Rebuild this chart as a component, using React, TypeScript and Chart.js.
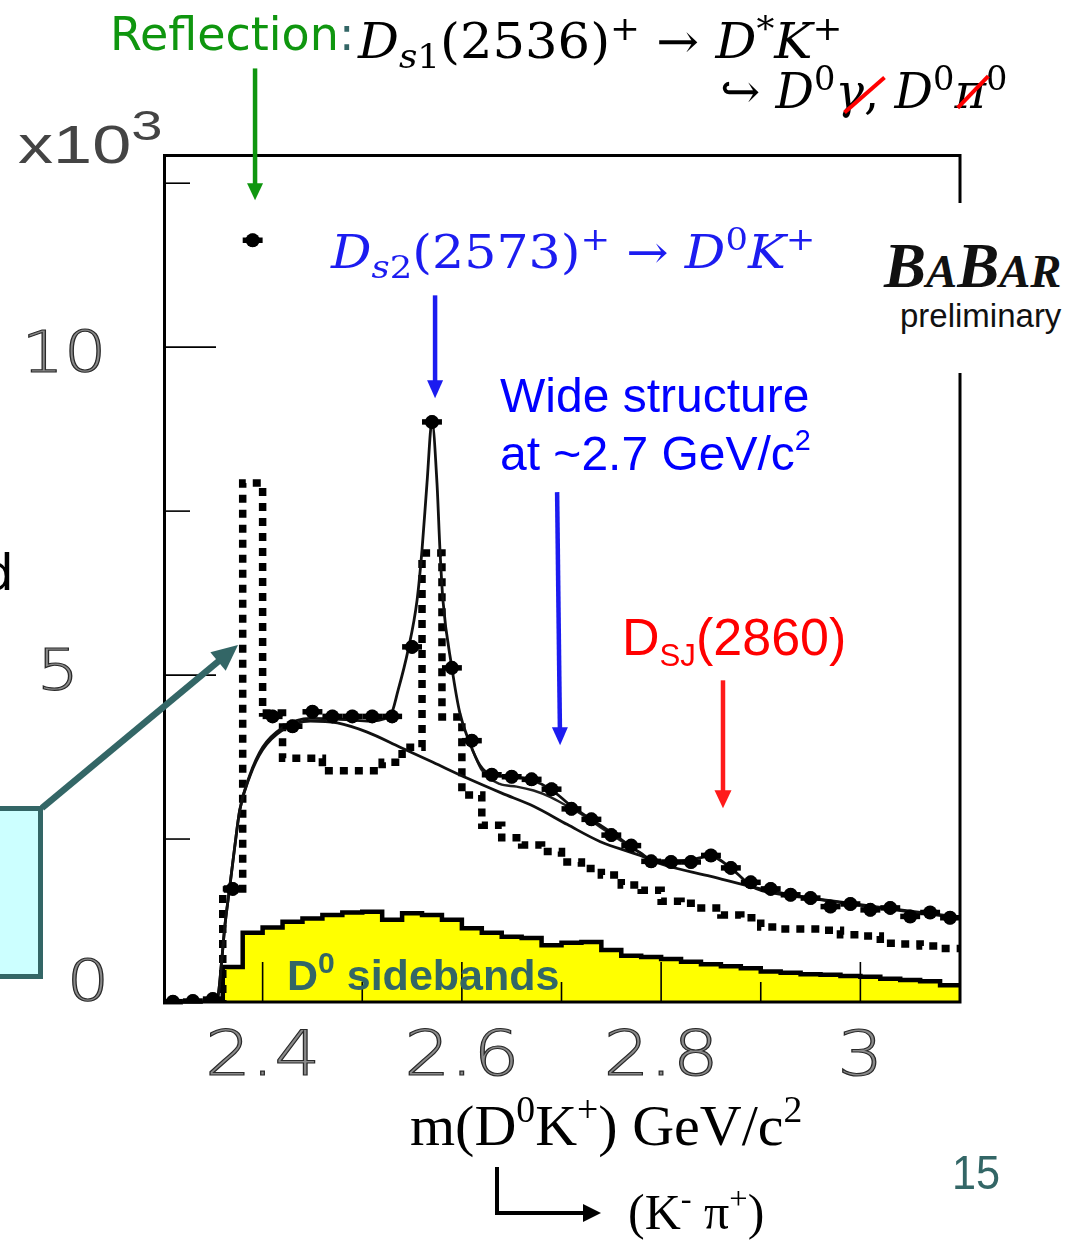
import React, { useEffect, useRef } from 'react';
import { Chart, registerables } from 'chart.js';
Chart.register(...registerables);

// ---------------- data ----------------
const BIN_CENTERS = [2.31, 2.33, 2.35, 2.37, 2.39, 2.41, 2.43, 2.45, 2.47, 2.49, 2.51, 2.53, 2.55, 2.57, 2.59, 2.61, 2.63, 2.65, 2.67, 2.69, 2.71, 2.73, 2.75, 2.77, 2.79, 2.81, 2.83, 2.85, 2.87, 2.89, 2.91, 2.93, 2.95, 2.97, 2.99, 3.01, 3.03, 3.05, 3.07, 3.09];
const BIN_HALF = 0.01;

// data points (x10^3 entries)
const DATA_VALUES = [0.02, 0.03, 0.06, 1.74, 11.63, 4.37, 4.22, 4.44, 4.37, 4.37, 4.37, 4.37, 5.43, 8.86, 5.11, 4.0, 3.48, 3.45, 3.41, 3.26, 2.96, 2.8, 2.56, 2.4, 2.16, 2.15, 2.15, 2.25, 2.06, 1.84, 1.74, 1.65, 1.6, 1.47, 1.51, 1.42, 1.45, 1.32, 1.38, 1.3];
const DATA_ERROR = 0.1;

// dotted histogram
const DOTTED_VALUES: (number | null)[] = [null, null, 0, 1.74, 7.93, 4.42, 3.73, 3.73, 3.54, 3.54, 3.54, 3.67, 3.9, 6.86, 4.36, 3.17, 2.71, 2.52, 2.41, 2.31, 2.15, 2.05, 1.95, 1.8, 1.72, 1.55, 1.52, 1.45, 1.34, 1.3, 1.16, 1.13, 1.13, 1.11, 1.04, 1.02, 0.91, 0.9, 0.87, 0.83];

// D0 sidebands histogram
const SIDEBAND_VALUES = [0, 0, 0, 0.55, 1.07, 1.15, 1.24, 1.29, 1.34, 1.38, 1.39, 1.27, 1.37, 1.34, 1.27, 1.14, 1.07, 1.01, 0.99, 0.88, 0.92, 0.93, 0.81, 0.72, 0.7, 0.67, 0.63, 0.59, 0.56, 0.53, 0.48, 0.46, 0.44, 0.43, 0.41, 0.4, 0.37, 0.35, 0.33, 0.27];

// total fit curve
const FIT_M = [2.35, 2.355, 2.359, 2.362, 2.367, 2.372, 2.377, 2.387, 2.4, 2.42, 2.448, 2.475, 2.505, 2.528, 2.536, 2.546, 2.555, 2.56, 2.565, 2.57, 2.575, 2.578, 2.581, 2.59, 2.598, 2.608, 2.618, 2.63, 2.65, 2.67, 2.69, 2.71, 2.73, 2.75, 2.779, 2.796, 2.829, 2.849, 2.872, 2.892, 2.923, 2.95, 3.0, 3.05, 3.1];
const FIT_V = [0, 0.09, 0.66, 1.16, 1.77, 2.38, 2.94, 3.47, 3.9, 4.2, 4.34, 4.33, 4.3, 4.38, 4.77, 5.38, 6.14, 6.91, 7.93, 8.86, 7.93, 6.91, 6.14, 5.11, 4.42, 3.96, 3.63, 3.48, 3.45, 3.4, 3.25, 3.0, 2.8, 2.6, 2.29, 2.15, 2.18, 2.24, 2.03, 1.77, 1.65, 1.6, 1.5, 1.4, 1.31];

// background curve
const BG_M = [2.35, 2.355, 2.359, 2.362, 2.367, 2.372, 2.377, 2.387, 2.4, 2.42, 2.448, 2.475, 2.505, 2.538, 2.571, 2.605, 2.64, 2.672, 2.706, 2.739, 2.779, 2.8, 2.85, 2.9, 2.95, 3.0, 3.05, 3.1];
const BG_V = [0, 0.09, 0.66, 1.16, 1.77, 2.38, 2.94, 3.45, 3.86, 4.16, 4.3, 4.27, 4.13, 3.9, 3.67, 3.43, 3.2, 3.0, 2.72, 2.46, 2.25, 2.12, 1.93, 1.74, 1.6, 1.49, 1.39, 1.3];

// intermediate fit component
const ALT_M = [2.61, 2.62, 2.638, 2.655, 2.672, 2.689, 2.706, 2.722, 2.739, 2.76, 2.779];
const ALT_V = [3.88, 3.55, 3.34, 3.3, 3.24, 3.14, 3.0, 2.86, 2.68, 2.47, 2.29];

// axes
const X_MIN = 2.3;
const X_MAX = 3.1;
const Y_MIN = 0;
const Y_MAX = 12.93;
const X_MAJOR_TICKS = [2.4, 2.6, 2.8, 3.0];
const X_MINOR_TICKS = [2.5, 2.7, 2.9];
const X_TICK_LABELS = ['2.4', '2.6', '2.8', '3'];
const Y_MAJOR_TICKS = [5, 10];
const Y_MINOR_TICKS = [2.5, 7.5, 12.5];
const Y_LABEL_VALUES = [0, 5, 10];
const Y_TICK_LABELS = ['0', '5', '10'];

// annotation arrows in data coordinates [mass, entries]
const ANNOTATION_ARROWS = [
  { from: [2.3924, 14.25], to: [2.3924, 12.24], color: '#0f960f', width: 4.5, head: 17, headW: 16 },
  { from: [2.5731, 10.79], to: [2.5731, 9.22], color: '#1c1cf0', width: 4.5, head: 18, headW: 16 },
  { from: [2.6956, 7.79], to: [2.6986, 3.93], color: '#1c1cf0', width: 4.5, head: 18, headW: 16 },
  { from: [2.8621, 4.92], to: [2.8621, 2.97], color: '#ff1a1a', width: 4.5, head: 18, headW: 17 },
  { from: [2.1785, 2.973], to: [2.3753, 5.459], color: '#336666', width: 6.5, head: 26, headW: 24 },
];

// ---------------- helpers ----------------
const r3 = (v: number) => Math.round(v * 1000) / 1000;
function histPoints(values: (number | null)[]) {
  const pts: { x: number; y: number }[] = [];
  let last = 0;
  BIN_CENTERS.forEach((c, i) => {
    const v = values[i];
    if (v === null || v === undefined) return;
    pts.push({ x: r3(c - BIN_HALF), y: v });
    last = v;
  });
  pts.push({ x: r3(BIN_CENTERS[BIN_CENTERS.length - 1] + BIN_HALF), y: last });
  return pts;
}
const curve = (m: number[], v: number[]) => m.map((x, i) => ({ x, y: v[i] }));

function drawArrow(ctx: CanvasRenderingContext2D, x1: number, y1: number, x2: number, y2: number, color: string, lw: number, headLen: number, headW: number) {
  const ang = Math.atan2(y2 - y1, x2 - x1);
  const bx = x2 - headLen * Math.cos(ang);
  const by = y2 - headLen * Math.sin(ang);
  ctx.strokeStyle = color;
  ctx.fillStyle = color;
  ctx.lineWidth = lw;
  ctx.lineCap = 'butt';
  ctx.beginPath();
  ctx.moveTo(x1, y1);
  ctx.lineTo(bx + Math.cos(ang), by + Math.sin(ang));
  ctx.stroke();
  const nx = Math.sin(ang) * headW / 2;
  const ny = -Math.cos(ang) * headW / 2;
  ctx.beginPath();
  ctx.moveTo(x2, y2);
  ctx.lineTo(bx + nx, by + ny);
  ctx.lineTo(bx - nx, by - ny);
  ctx.closePath();
  ctx.fill();
}

function stretchedLabel(ctx: CanvasRenderingContext2D, text: string, cx: number, baseline: number, sx: number) {
  ctx.save();
  ctx.translate(cx, baseline);
  ctx.scale(sx, 1);
  ctx.textAlign = 'center';
  ctx.textBaseline = 'alphabetic';
  ctx.fillText(text, 0, 0);
  ctx.strokeText(text, 0, 0);
  ctx.restore();
}

const decorPlugin = {
  id: 'decor',
  afterDatasetsDraw(chart: any) {
    const { ctx, chartArea: a } = chart;
    const xs = chart.scales.x;
    const ys = chart.scales.y;
    ctx.save();
    // data error bars
    ctx.strokeStyle = '#000';
    ctx.lineCap = 'butt';
    BIN_CENTERS.forEach((c, i) => {
      const v = DATA_VALUES[i];
      const py = ys.getPixelForValue(v);
      const px = xs.getPixelForValue(c);
      ctx.lineWidth = 5.5;
      ctx.beginPath();
      ctx.moveTo(xs.getPixelForValue(c - BIN_HALF), py);
      ctx.lineTo(xs.getPixelForValue(c + BIN_HALF), py);
      ctx.stroke();
      ctx.lineWidth = 5;
      ctx.beginPath();
      ctx.moveTo(px, ys.getPixelForValue(v + DATA_ERROR));
      ctx.lineTo(px, ys.getPixelForValue(Math.max(0, v - DATA_ERROR)));
      ctx.stroke();
    });
    // frame
    ctx.strokeStyle = '#000';
    ctx.lineWidth = 3;
    ctx.strokeRect(a.left + 1.5, a.top + 0.5, a.right - a.left - 1.5, a.bottom - a.top - 1.5);
    // ticks (inward)
    ctx.lineWidth = 1.6;
    const tick = (x1: number, y1: number, x2: number, y2: number) => {
      ctx.beginPath();
      ctx.moveTo(x1, y1);
      ctx.lineTo(x2, y2);
      ctx.stroke();
    };
    X_MAJOR_TICKS.forEach((t) => { const p = xs.getPixelForValue(t); tick(p, a.bottom, p, a.bottom - 41); });
    X_MINOR_TICKS.forEach((t) => { const p = xs.getPixelForValue(t); tick(p, a.bottom, p, a.bottom - 21); });
    Y_MAJOR_TICKS.forEach((t) => { const p = ys.getPixelForValue(t); tick(a.left, p, a.left + 53, p); });
    Y_MINOR_TICKS.forEach((t) => { const p = ys.getPixelForValue(t); tick(a.left, p, a.left + 27, p); });
    // tick labels
    ctx.fillStyle = '#8a8a8a';
    ctx.strokeStyle = '#2a2a2a';
    ctx.lineWidth = 1.1;
    ctx.font = '200 62px "DejaVu Sans"';
    X_MAJOR_TICKS.forEach((t, i) => {
      stretchedLabel(ctx, X_TICK_LABELS[i], xs.getPixelForValue(t), a.bottom + 72, 1.17);
    });
    ctx.font = '200 57px "DejaVu Sans"';
    const yLabelX = [88, 58, 64];
    const yLabelDy = [-2, 15, 25];
    Y_LABEL_VALUES.forEach((t, i) => {
      stretchedLabel(ctx, Y_TICK_LABELS[i], yLabelX[i], ys.getPixelForValue(t) + yLabelDy[i], 1.17);
    });
    // annotation arrows
    ANNOTATION_ARROWS.forEach((ar) => {
      drawArrow(ctx, xs.getPixelForValue(ar.from[0]), ys.getPixelForValue(ar.from[1]), xs.getPixelForValue(ar.to[0]), ys.getPixelForValue(ar.to[1]), ar.color, ar.width, ar.head, ar.headW);
    });
    // L-shaped arrow under the axis title
    ctx.strokeStyle = '#000';
    ctx.fillStyle = '#000';
    ctx.lineWidth = 4;
    ctx.beginPath();
    ctx.moveTo(497, 1167);
    ctx.lineTo(497, 1213);
    ctx.lineTo(586, 1213);
    ctx.stroke();
    ctx.beginPath();
    ctx.moveTo(601, 1213);
    ctx.lineTo(583, 1204);
    ctx.lineTo(583, 1222);
    ctx.closePath();
    ctx.fill();
    ctx.restore();
  },
};

// ---------------- text helpers ----------------
type TP = { x: number; y: number; size: number; family: string; color?: string; weight?: number | string; italic?: boolean; sx?: number; children: any };
function Txt({ x, y, size, family, color = '#000', weight = 400, italic = false, sx = 1, children }: TP) {
  return (
    <div
      style={{
        position: 'absolute',
        left: x,
        top: y - 0.846 * size,
        fontSize: size,
        lineHeight: `${size}px`,
        fontFamily: family,
        color,
        fontWeight: weight as any,
        fontStyle: italic ? 'italic' : 'normal',
        whiteSpace: 'nowrap',
        transform: sx !== 1 ? `scaleX(${sx})` : undefined,
        transformOrigin: 'left center',
      }}
    >
      {children}
    </div>
  );
}
const Sup = ({ children, s = 0.7, r = 0.55 }: any) => (
  <span style={{ fontSize: `${s}em`, position: 'relative', top: `-${r}em` }}>{children}</span>
);
const Sub = ({ children, s = 0.7, r = 0.3 }: any) => (
  <span style={{ fontSize: `${s}em`, position: 'relative', top: `${r}em` }}>{children}</span>
);
const I = ({ children }: any) => <span style={{ fontStyle: 'italic' }}>{children}</span>;

const SANS = '"Liberation Sans", Arial, sans-serif';
const SERIF = '"Liberation Serif", "Times New Roman", serif';
const MATH = '"DejaVu Serif", serif';
const ROUND = '"DejaVu Sans", sans-serif';

export default function App() {
  const canvasRef = useRef<HTMLCanvasElement | null>(null);

  useEffect(() => {
    if (!canvasRef.current) return;
    const chart = new Chart(canvasRef.current, {
      type: 'line',
      data: {
        datasets: [
          {
            label: 'Data',
            data: BIN_CENTERS.map((c, i) => ({ x: c, y: DATA_VALUES[i] })),
            showLine: false,
            pointRadius: 7,
            pointBackgroundColor: '#000',
            pointBorderWidth: 0,
            order: 1,
          },
          {
            label: 'Fit',
            data: curve(FIT_M, FIT_V),
            borderColor: '#111',
            borderWidth: 2.8,
            pointRadius: 0,
            cubicInterpolationMode: 'monotone',
            fill: false,
            order: 2,
          },
          {
            label: 'Fit component',
            data: curve(ALT_M, ALT_V),
            borderColor: '#222',
            borderWidth: 2.4,
            pointRadius: 0,
            cubicInterpolationMode: 'monotone',
            fill: false,
            order: 3,
          },
          {
            label: 'Background',
            data: curve(BG_M, BG_V),
            borderColor: '#111',
            borderWidth: 2.8,
            pointRadius: 0,
            cubicInterpolationMode: 'monotone',
            fill: false,
            order: 4,
          },
          {
            label: 'Dotted',
            data: histPoints(DOTTED_VALUES),
            stepped: 'before',
            borderColor: '#000',
            borderWidth: 7.5,
            borderDash: [8, 7],
            borderCapStyle: 'butt',
            pointRadius: 0,
            fill: false,
            order: 5,
          },
          {
            label: 'D0 sidebands',
            data: histPoints(SIDEBAND_VALUES),
            stepped: 'before',
            borderColor: '#000',
            borderWidth: 4.5,
            backgroundColor: '#ffff00',
            pointRadius: 0,
            fill: 'origin',
            order: 6,
          },
        ] as any,
      },
      options: {
        animation: false,
        responsive: false,
        devicePixelRatio: 1,
        layout: { padding: { left: 0, right: 111, top: 155, bottom: 0 } },
        plugins: { legend: { display: false }, tooltip: { enabled: false }, title: { display: false } },
        scales: {
          x: {
            type: 'linear',
            min: X_MIN,
            max: X_MAX,
            ticks: { display: false },
            grid: { display: false },
            border: { display: false },
            afterFit: (s: any) => { s.height = 238; },
          },
          y: {
            type: 'linear',
            min: Y_MIN,
            max: Y_MAX,
            ticks: { display: false },
            grid: { display: false },
            border: { display: false },
            afterFit: (s: any) => { s.width = 163; },
          },
        },
      } as any,
      plugins: [decorPlugin],
    });
    return () => chart.destroy();
  }, []);

  return (
    <div style={{ position: 'fixed', left: 0, top: 0, width: 1071, height: 1241, overflow: 'hidden', background: '#fff' }}>
      <canvas ref={canvasRef} width={1071} height={1241} style={{ position: 'absolute', left: 0, top: 0 }} />

      {/* BaBar logo box */}
      <div style={{ position: 'absolute', left: 872, top: 203, width: 199, height: 170, background: '#fff' }} />
      <Txt x={884} y={288} size={63} family={SERIF} weight={700} italic color="#111">
        B<span style={{ fontSize: '0.74em' }}>A</span>B<span style={{ fontSize: '0.74em' }}>AR</span>
      </Txt>
      <Txt x={900} y={327} size={33} family={SANS} color="#111">preliminary</Txt>

      {/* top annotations */}
      <Txt x={110} y={50} size={46} family={ROUND} color="#0f960f">
        Reflection<span style={{ color: '#336666' }}>:</span>
      </Txt>
      <Txt x={358} y={58} size={48} family={MATH} sx={1.065}>
        <I>D</I><Sub><I>s</I>1</Sub>(2536)<Sup>+</Sup> → <I>D</I><Sup>*</Sup><I>K</I><Sup>+</Sup>
      </Txt>
      <Txt x={720} y={108} size={48} family={MATH}>
        ↪ <I>D</I><Sup>0</Sup><I>γ</I>, <I>D</I><Sup>0</Sup><I>π</I><Sup>0</Sup>
      </Txt>
      <div style={{ position: 'absolute', left: 838, top: 93, width: 53, height: 4, background: '#ff0000', transform: 'rotate(-41deg)' }} />
      <div style={{ position: 'absolute', left: 951, top: 90, width: 44, height: 4, background: '#ff0000', transform: 'rotate(-46deg)' }} />

      <Txt x={18} y={163} size={54} family={SANS} color="#444" sx={1.3}>
        x10<Sup s={0.8} r={0.55}>3</Sup>
      </Txt>

      <Txt x={331} y={268} size={46} family={MATH} color="#1c1cf0" sx={1.1}>
        <I>D</I><Sub><I>s</I>2</Sub>(2573)<Sup>+</Sup> → <I>D</I><Sup>0</Sup><I>K</I><Sup>+</Sup>
      </Txt>

      <Txt x={500} y={413} size={48} family={SANS} color="#0000ff">Wide structure</Txt>
      <Txt x={500} y={471} size={48} family={SANS} color="#0000ff">
        at ~2.7 GeV/c<Sup s={0.6} r={0.7}>2</Sup>
      </Txt>

      <Txt x={622} y={655} size={52} family={SANS} color="#ff0000">
        D<Sub s={0.6} r={0.35}>SJ</Sub>(2860)
      </Txt>

      <Txt x={287} y={990} size={43} family={SANS} weight={700} color="#336666">
        D<Sup s={0.7} r={0.55}>0</Sup> sidebands
      </Txt>

      {/* left side */}
      <Txt x={-18} y={590} size={50} family={ROUND} color="#000">d</Txt>
      <div style={{ position: 'absolute', left: -12, top: 806, width: 55, height: 173, boxSizing: 'border-box', border: '5px solid #336666', background: '#ccffff' }} />

      {/* axis title */}
      <Txt x={410} y={1146} size={58} family={SERIF}>
        m(D<Sup s={0.65} r={0.6}>0</Sup>K<Sup s={0.65} r={0.6}>+</Sup>) GeV/c<Sup s={0.65} r={0.6}>2</Sup>
      </Txt>
      <Txt x={628} y={1229} size={50} family={SERIF}>
        (K<Sup s={0.65} r={0.6}>-</Sup> π<Sup s={0.65} r={0.6}>+</Sup>)
      </Txt>

      <Txt x={952} y={1190} size={48} family={SANS} color="#336666" sx={0.9}>15</Txt>
    </div>
  );
}
